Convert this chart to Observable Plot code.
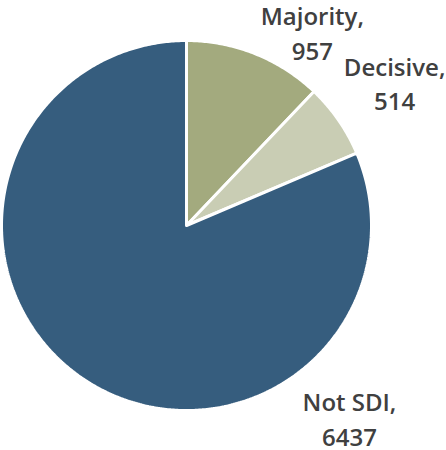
<!DOCTYPE html>
<html>
<head>
<meta charset="utf-8">
<script src="https://cdn.jsdelivr.net/npm/d3@7"></script>
<script src="https://cdn.jsdelivr.net/npm/@observablehq/plot@0.6"></script>
<style>
  html, body { margin: 0; padding: 0; background: #fff; }
  #chart svg { display: block; }
</style>
</head>
<body>
<div id="chart"></div>
<script>
const categories = ["Majority", "Decisive", "Not SDI"];
const values = [957, 514, 6437];
const colors = ["#a3aa7e", "#c9cdb4", "#365d7e"];

// Label anchor points (in unit-radius pie coordinates), kept out of data arrays
const labelAnchors = {
  "Majority": [0.68, 1.05],
  "Decisive": [1.125, 0.776],
  "Not SDI": [0.881, -1.035]
};

const pie = d3.pie().sort(null).value(d => d.value);
const arcs = pie(categories.map((c, i) => ({category: c, value: values[i]})));

const polyPoints = [];
for (const a of arcs) {
  const cat = a.data.category;
  polyPoints.push({category: cat, x: 0, y: 0});
  const n = Math.max(4, Math.ceil((a.endAngle - a.startAngle) / 0.01));
  for (let k = 0; k <= n; k++) {
    const t = a.startAngle + (a.endAngle - a.startAngle) * k / n;
    polyPoints.push({category: cat, x: Math.sin(t), y: Math.cos(t)});
  }
  polyPoints.push({category: cat, x: 0, y: 0});
}

const labels = arcs.map(a => ({
  text: `${a.data.category},\n${a.data.value}`,
  x: labelAnchors[a.data.category][0],
  y: labelAnchors[a.data.category][1]
}));

const chart = Plot.plot({
  width: 446,
  height: 450,
  marginLeft: 1,
  marginRight: 75,
  marginTop: 40,
  marginBottom: 40,
  x: {domain: [-1, 1], axis: null},
  y: {domain: [-1, 1], axis: null},
  color: {domain: categories, range: colors},
  style: {fontFamily: "'Open Sans', sans-serif", background: "#fff", overflow: "visible"},
  marks: [
    Plot.line(polyPoints, {
      x: "x", y: "y", z: "category",
      fill: "category",
      stroke: "white",
      strokeWidth: 3,
      strokeLinejoin: "miter",
      curve: "linear"
    }),
    Plot.text(labels, {
      x: "x", y: "y", text: "text",
      fontSize: 24,
      fontWeight: 600,
      fill: "#404040",
      lineHeight: 1.45,
      textAnchor: "middle"
    })
  ]
});
document.getElementById("chart").append(chart);
</script>
</body>
</html>
